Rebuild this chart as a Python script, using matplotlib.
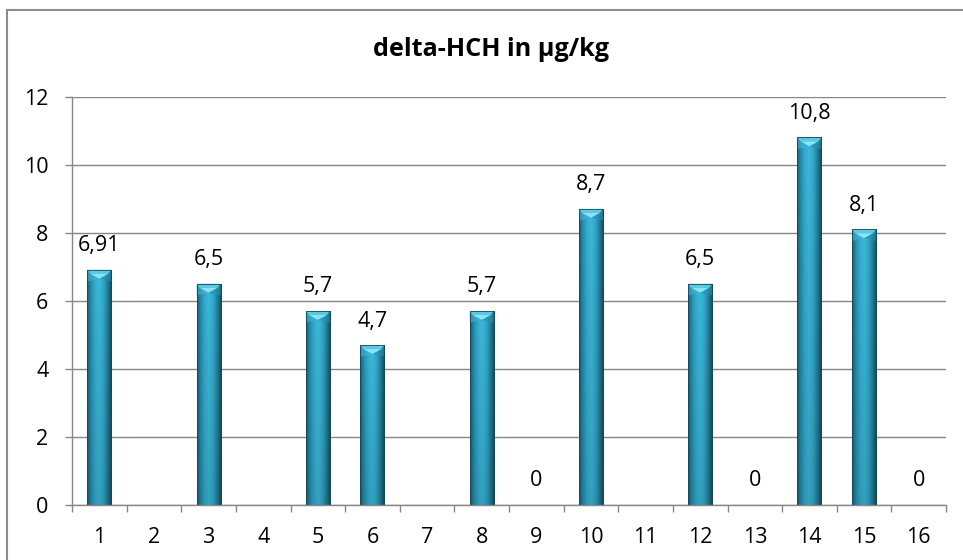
import numpy as np
import matplotlib
matplotlib.use("Agg")
import matplotlib.pyplot as plt
from matplotlib.colors import LinearSegmentedColormap
from matplotlib.patches import Polygon
from matplotlib.lines import Line2D

plt.rcParams['font.family'] = ['Open Sans', 'DejaVu Sans']

# Data
samples = list(range(1, 17))
values = [6.91, None, 6.5, None, 5.7, 4.7, None, 5.7, 0, 8.7, None, 6.5, 0, 10.8, 8.1, 0]
value_labels = ["6,91", "", "6,5", "", "5,7", "4,7", "", "5,7", "0", "8,7", "", "6,5", "0", "10,8", "8,1", "0"]
y_ticks = [0, 2, 4, 6, 8, 10, 12]
title = "delta-HCH in µg/kg"

W, H, DPI = 963, 560, 100
fig = plt.figure(figsize=(W / DPI, H / DPI), dpi=DPI)

# plot area in pixels
left_px, right_px, top_px, bottom_px = 72, 946, 96.5, 505
ax = fig.add_axes([left_px / W, 1 - bottom_px / H,
                   (right_px - left_px) / W, (bottom_px - top_px) / H])

FS = 15.5
grid_col = "#868686"
ax.set_xlim(0.5, 16.5)
ax.set_ylim(0, 12)
ax.set_yticks(y_ticks)
ax.set_yticklabels([str(t) for t in y_ticks])
ax.set_xticks(samples)
ax.set_xticklabels([str(s) for s in samples])
ax.set_xticks(np.arange(0.5, 17, 1), minor=True)
ax.tick_params(axis='x', which='major', length=0, pad=16, labelsize=FS, colors='black')
ax.tick_params(axis='x', which='minor', length=5, width=1, color=grid_col, direction='out')
ax.tick_params(axis='y', which='major', length=5, width=1, color=grid_col, pad=12,
               labelsize=FS, labelcolor='black')
for s in ('top', 'right'):
    ax.spines[s].set_visible(False)
for s in ('left', 'bottom'):
    ax.spines[s].set_color(grid_col)
    ax.spines[s].set_linewidth(1)
ax.yaxis.grid(True, color=grid_col, linewidth=1)
ax.set_axisbelow(True)

# bars with a horizontal shading and a bevelled top
shade = LinearSegmentedColormap.from_list(
    "bar_shade",
    ["#1a6076", "#2891b2", "#35aed0", "#3bb8da", "#31a6c7", "#227d98", "#13475a"])
grad = np.tile(np.linspace(0, 1, 64), (32, 1))
# slight darkening toward the bottom
vert = np.linspace(0.88, 1.0, 32)[:, None, None]

bw = 0.44
ppu = (bottom_px - top_px) / 12.0  # pixels per unit on y
cap_h = 9.0 / ppu
heights = [v if v is not None else 0 for v in values]
bars = ax.bar(samples, heights, width=bw, facecolor='none', edgecolor='#164a5a',
              linewidth=0.6, zorder=3)
for x, v, b in zip(samples, values, bars):
    if v is None or v <= 0:
        b.set_visible(False)
        continue
    rgba = shade(grad)
    rgba[..., :3] = rgba[..., :3] * vert
    im = ax.imshow(rgba, extent=(x - bw / 2, x + bw / 2, 0, v), aspect='auto',
                   origin='lower', zorder=2, interpolation='bilinear')
    im.set_clip_path(b)
    x0, x1 = x - bw / 2, x + bw / 2
    inset = bw * 0.12
    # bevelled cap: light chevron with lighter side facets
    ax.add_patch(Polygon([(x0, v), (x1, v), (x1 - inset, v - cap_h * 0.45),
                          (x0 + inset, v - cap_h * 0.45)],
                         closed=True, facecolor='#5cc9e3', edgecolor='none', zorder=4))
    ax.add_patch(Polygon([(x0 + inset, v - cap_h * 0.45), (x1 - inset, v - cap_h * 0.45),
                          (x, v - cap_h)],
                         closed=True, facecolor='#8be4f3', edgecolor='none', zorder=4))
    ax.add_patch(Polygon([(x0, v), (x0 + inset, v - cap_h * 0.45), (x, v - cap_h),
                          (x0, v - cap_h * 1.3)],
                         closed=True, facecolor='#41b3d3', edgecolor='none', alpha=0.6, zorder=4))
    ax.add_patch(Polygon([(x1, v), (x1 - inset, v - cap_h * 0.45), (x, v - cap_h),
                          (x1, v - cap_h * 1.3)],
                         closed=True, facecolor='#2a8fae', edgecolor='none', alpha=0.6, zorder=4))
    ax.add_patch(Polygon([(x0, 0), (x1, 0), (x1, v), (x0, v)], closed=True,
                         facecolor='none', edgecolor='#164a5a', linewidth=0.6, zorder=5))

# value labels
for x, v, lab in zip(samples, values, value_labels):
    if v is None:
        continue
    ax.annotate(lab, (x, v), xytext=(0, 24 * 72 / DPI), textcoords='offset points',
                ha='center', va='center', fontsize=FS, color='black', zorder=6)

fig.text(490.5 / W, 1 - 50 / H, title, ha='center', va='center',
         fontsize=18.2, fontweight='bold', color='black')

# chart frame (only top and left edges fall inside the image)
frame_kw = dict(color='#8c8c8c', linewidth=1.5, transform=fig.transFigure)
fig.add_artist(Line2D([6.5 / W, 1.0], [1 - 9.5 / H, 1 - 9.5 / H], **frame_kw))
fig.add_artist(Line2D([6.5 / W, 6.5 / W], [0, 1 - 9.5 / H], **frame_kw))

fig.savefig("out.png", dpi=DPI)
